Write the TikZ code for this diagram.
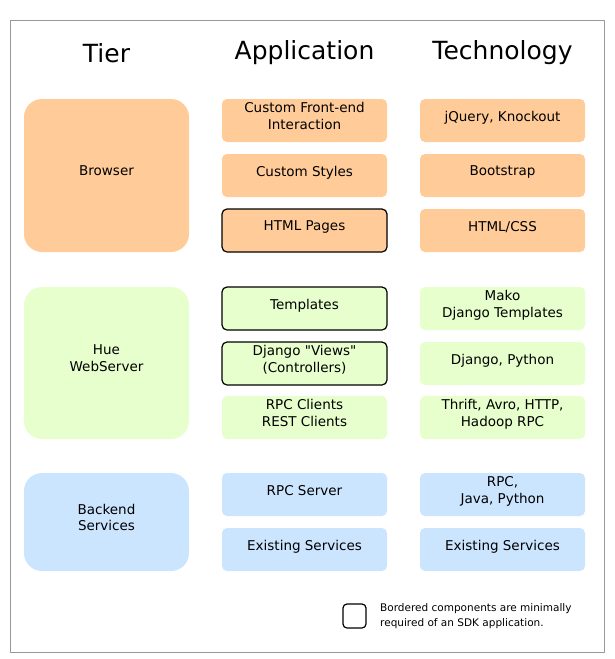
\documentclass[tikz,border=0pt]{standalone}
\usepackage{fontspec}
\setmainfont{DejaVu Sans}

\definecolor{browserfill}{HTML}{FFCC99}
\definecolor{serverfill}{HTML}{E6FFCC}
\definecolor{backendfill}{HTML}{CCE5FF}
\definecolor{framegray}{HTML}{999999}

\begin{document}
\begin{tikzpicture}[
	x=1pt, y=-1pt,
	every node/.style={font=\fontsize{13.5}{16.5}\selectfont, align=center},
	line cap=round,
	line join=round,
	part/.style={rounded corners=5pt, minimum width=165pt, minimum height=43pt, inner sep=0pt, text depth=9pt},
	tierbox/.style={rounded corners=18pt, minimum width=165pt, inner sep=0pt, text depth=9.5pt},
	needed/.style={draw=black, line width=1.2pt},
	heading/.style={font=\fontsize{25}{29}\selectfont}
	]
	
	\useasboundingbox (0,0) rectangle (614,659);
	\draw[framegray, line width=1pt] (10,20) rectangle (604,652);
	
	% Column headings
	\node[heading] (hTier) at (106.5,53) {Tier};
	\node[heading] (hApp) at (304.5,53) {Application};
	\node[heading] (hTech) at (502.5,53) {Technology};
	
	% Browser tier
	\node[tierbox, fill=browserfill, minimum height=153pt] (browser) at (106.5,175.5) {Browser};
	\node[part, fill=browserfill] (frontend) at (304.5,120.5) {Custom Front-end\\Interaction};
	\node[part, fill=browserfill] (styles) at (304.5,175.5) {Custom Styles};
	\node[part, fill=browserfill, needed] (pages) at (304.5,230.5) {HTML Pages};
	\node[part, fill=browserfill] (jquery) at (502.5,120.5) {jQuery, Knockout};
	\node[part, fill=browserfill] (bootstrap) at (502.5,175.5) {Bootstrap};
	\node[part, fill=browserfill] (htmlcss) at (502.5,230.5) {HTML/CSS};
	
	% Hue WebServer tier
	\node[tierbox, fill=serverfill, minimum height=152pt] (webserver) at (106.5,363) {Hue\\WebServer};
	\node[part, fill=serverfill, needed] (templates) at (304.5,308.5) {Templates};
	\node[part, fill=serverfill, needed] (views) at (304.5,363.5) {Django \textquotedbl Views\textquotedbl\\(Controllers)};
	\node[part, fill=serverfill] (clients) at (304.5,417.5) {RPC Clients\\REST Clients};
	\node[part, fill=serverfill] (mako) at (502.5,308.5) {Mako\\Django Templates};
	\node[part, fill=serverfill] (django) at (502.5,363.5) {Django, Python};
	\node[part, fill=serverfill] (thrift) at (502.5,417.5) {Thrift, Avro, HTTP,\\Hadoop RPC};
	
	% Backend tier
	\node[tierbox, fill=backendfill, minimum height=98pt] (backend) at (106.5,522) {Backend\\Services};
	\node[part, fill=backendfill] (rpcserver) at (304.5,494.5) {RPC Server};
	\node[part, fill=backendfill] (existing) at (304.5,549.5) {Existing Services};
	\node[part, fill=backendfill] (rpcjava) at (502.5,494.5) {RPC,\\Java, Python};
	\node[part, fill=backendfill] (existingtech) at (502.5,549.5) {Existing Services};
	
	% Legend
	\node[needed, rounded corners=4pt, minimum width=23pt, minimum height=24pt, inner sep=0pt] (legendbox) at (354.5,616) {};
	\node[anchor=west, align=left, font=\fontsize{10.5}{15}\selectfont, inner sep=0pt] (legendtext) at (380,616) {Bordered components are minimally\\required of an SDK application.};
	
\end{tikzpicture}
\end{document}
